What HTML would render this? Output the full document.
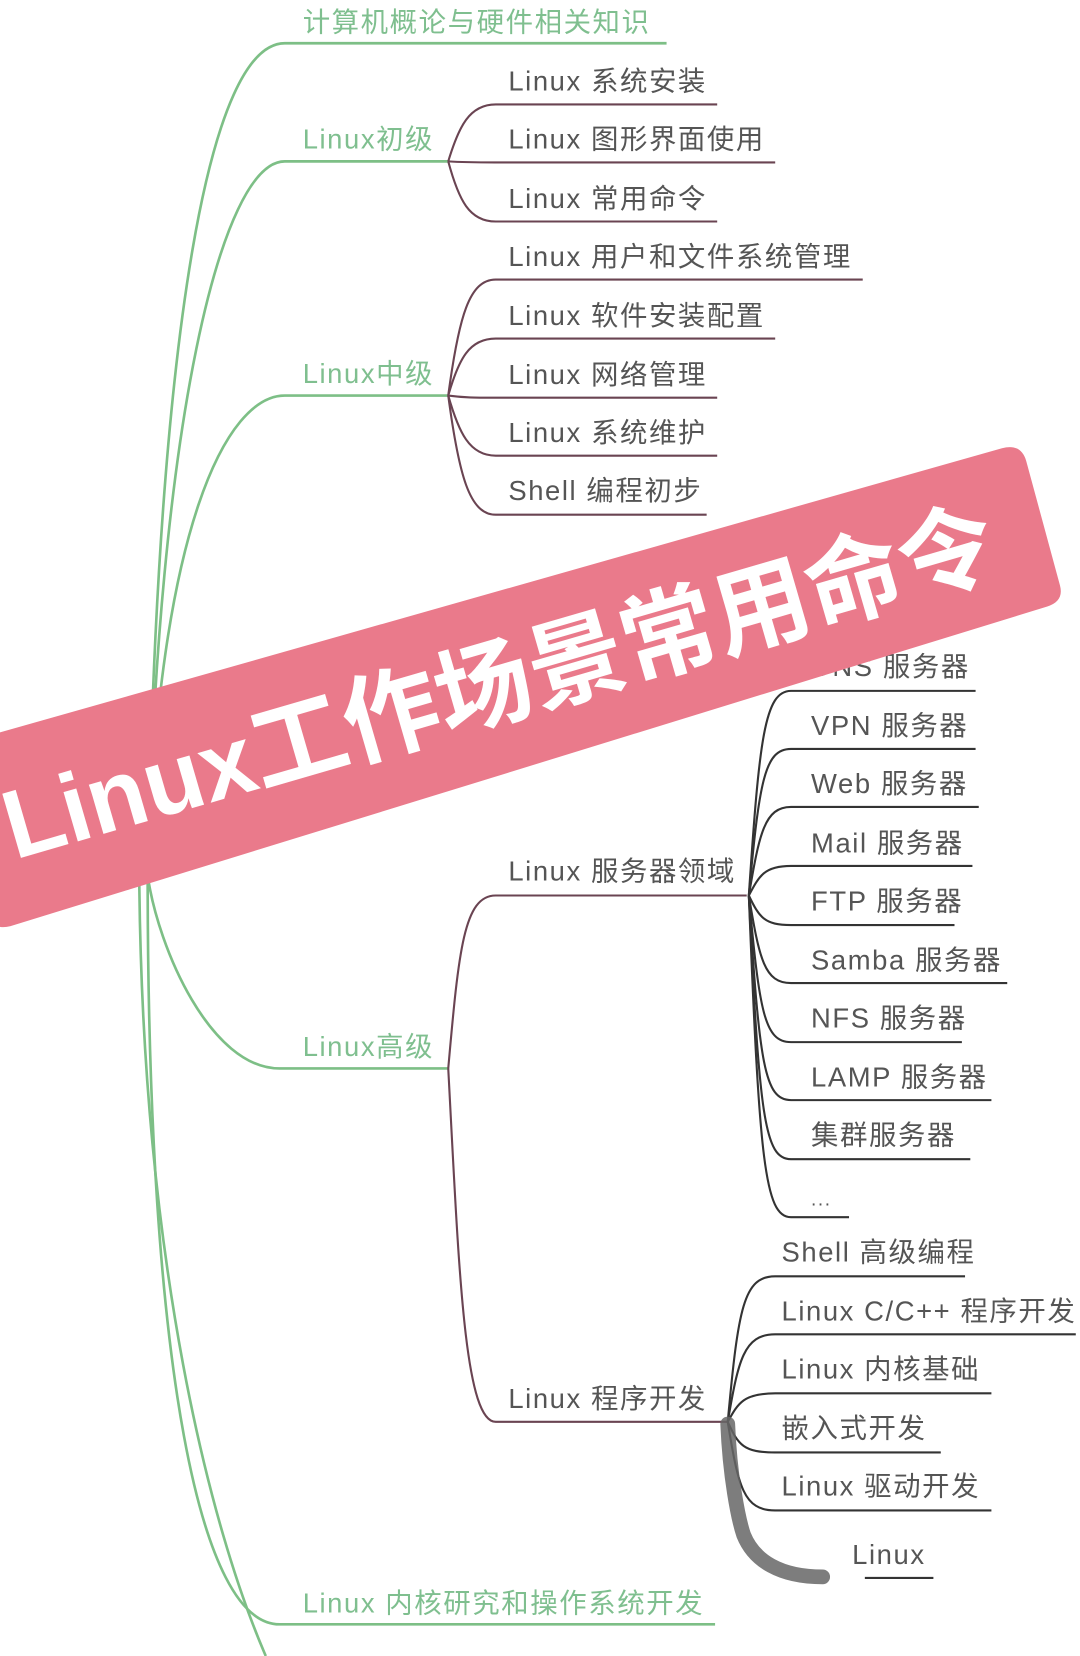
<!DOCTYPE html>
<html><head><meta charset="utf-8"><style>
html,body{margin:0;padding:0;background:#fff;width:1080px;height:1656px;overflow:hidden}
svg{display:block}
text{font-family:"Liberation Sans","Noto Sans CJK SC",sans-serif}
.g{fill:#7fbf8f;font-size:26px;letter-spacing:1.5px}
.t{fill:#555;font-size:26px;letter-spacing:1.5px}
.gl{stroke:#7dbf86;stroke-width:2.5;fill:none}
.bl{stroke:#6a4452;stroke-width:2;fill:none}
.kl{stroke:#333;stroke-width:2;fill:none}
</style></head><body>
<svg width="1080" height="1656" viewBox="0 0 1024 1570" preserveAspectRatio="none">
<path class="gl" d="M140,830 C150,300 200,41 270,41 L632,41"/>
<path class="gl" d="M140,830 C150,400 210,153 270,153 L425,153"/>
<path class="gl" d="M140,830 C150,500 215,375 270,375 L425,375"/>
<path class="gl" d="M140,830 C150,900 200,1013 265,1013 L425,1013"/>
<path class="gl" d="M140,830 C140,1300 190,1540 265,1540 L678,1540"/>
<path class="gl" d="M132,830 C135,1200 200,1450 252,1570"/>
<text class="g" x="287" y="30">计算机概论与硬件相关知识</text>
<text class="g" x="287" y="141">Linux初级</text>
<text class="g" x="287" y="363">Linux中级</text>
<text class="g" x="287" y="1001">Linux高级</text>
<text class="g" x="287" y="1529">Linux 内核研究和操作系统开发</text>
<path class="bl" d="M425,153 C435,120 445,99 470,99 L680,99"/>
<path class="bl" d="M425,153 C440,154 450,154 470,154 L735,154"/>
<path class="bl" d="M425,153 C435,190 445,210 470,210 L680,210"/>
<text class="t" x="482" y="86">Linux 系统安装</text>
<text class="t" x="482" y="141">Linux 图形界面使用</text>
<text class="t" x="482" y="197">Linux 常用命令</text>
<path class="bl" d="M425,375 C435,300 445,265 470,265 L818,265"/>
<path class="bl" d="M425,375 C435,340 445,321 470,321 L735,321"/>
<path class="bl" d="M425,375 C440,377 450,377 470,377 L680,377"/>
<path class="bl" d="M425,375 C435,410 445,432 470,432 L680,432"/>
<path class="bl" d="M425,375 C435,450 445,488 470,488 L670,488"/>
<text class="t" x="482" y="252">Linux 用户和文件系统管理</text>
<text class="t" x="482" y="308">Linux 软件安装配置</text>
<text class="t" x="482" y="364">Linux 网络管理</text>
<text class="t" x="482" y="419">Linux 系统维护</text>
<text class="t" x="482" y="474">Shell 编程初步</text>
<path class="bl" d="M425,1013 C435,900 440,849 470,849 L708,849"/>
<path class="bl" d="M425,1013 C435,1200 440,1348 470,1348 L690,1348"/>
<text class="t" x="482" y="835">Linux 服务器领域</text>
<text class="t" x="482" y="1335">Linux 程序开发</text>
<g class="kl">
<path d="M710,849 C720,700 725,655 750,655 L925,655"/>
<path d="M710,849 C720,740 725,710 750,710 L925,710"/>
<path d="M710,849 C720,790 725,765 750,765 L928,765"/>
<path d="M710,849 C720,830 725,821 750,821 L922,821"/>
<path d="M710,849 C720,870 725,877 750,877 L905,877"/>
<path d="M710,849 C720,910 725,932 750,932 L955,932"/>
<path d="M710,849 C720,960 725,988 750,988 L912,988"/>
<path d="M710,849 C720,1010 725,1043 750,1043 L940,1043"/>
<path d="M710,849 C720,1060 725,1099 750,1099 L920,1099"/>
<path d="M710,849 C720,1100 725,1154 750,1154 L805,1154"/>
</g>
<g class="t">
<text x="769" y="641">DNS 服务器</text>
<text x="769" y="697">VPN 服务器</text>
<text x="769" y="752">Web 服务器</text>
<text x="769" y="808">Mail 服务器</text>
<text x="769" y="863">FTP 服务器</text>
<text x="769" y="919">Samba 服务器</text>
<text x="769" y="974">NFS 服务器</text>
<text x="769" y="1030">LAMP 服务器</text>
<text x="769" y="1085">集群服务器</text>
<text x="769" y="1143" style="font-size:18px">...</text>
</g>
<g class="kl">
<path d="M690,1348 C700,1240 705,1210 735,1210 L915,1210"/>
<path d="M690,1348 C700,1290 705,1265 735,1265 L1020,1265"/>
<path d="M690,1348 C700,1330 705,1321 735,1321 L940,1321"/>
<path d="M690,1348 C700,1370 705,1377 735,1377 L892,1377"/>
<path d="M690,1348 C700,1410 705,1432 735,1432 L940,1432"/>
<path d="M820,1496 L885,1496"/>
</g>
<path d="M690,1350 C692,1400 700,1440 705,1455 C715,1480 740,1495 780,1495" stroke="#666" stroke-width="14" fill="none" stroke-linecap="round" opacity="0.85"/>
<g class="t">
<text x="741" y="1196">Shell 高级编程</text>
<text x="741" y="1252">Linux C/C++ 程序开发</text>
<text x="741" y="1307">Linux 内核基础</text>
<text x="741" y="1363">嵌入式开发</text>
<text x="741" y="1418">Linux 驱动开发</text>
<text x="808" y="1483">Linux</text>
</g>
<path d="M-20,700 L950,425 Q968,420 973,437 L1005,555 Q1009,570 993,575 L10,878 Q-5,882 -10,870 Z" fill="#ea7a8b"/>
<text x="0" y="0" transform="translate(14,815) rotate(-16.2)" fill="#fff" font-size="92" font-weight="bold" textLength="975" lengthAdjust="spacingAndGlyphs">Linux工作场景常用命令</text>
</svg>
</body></html>
